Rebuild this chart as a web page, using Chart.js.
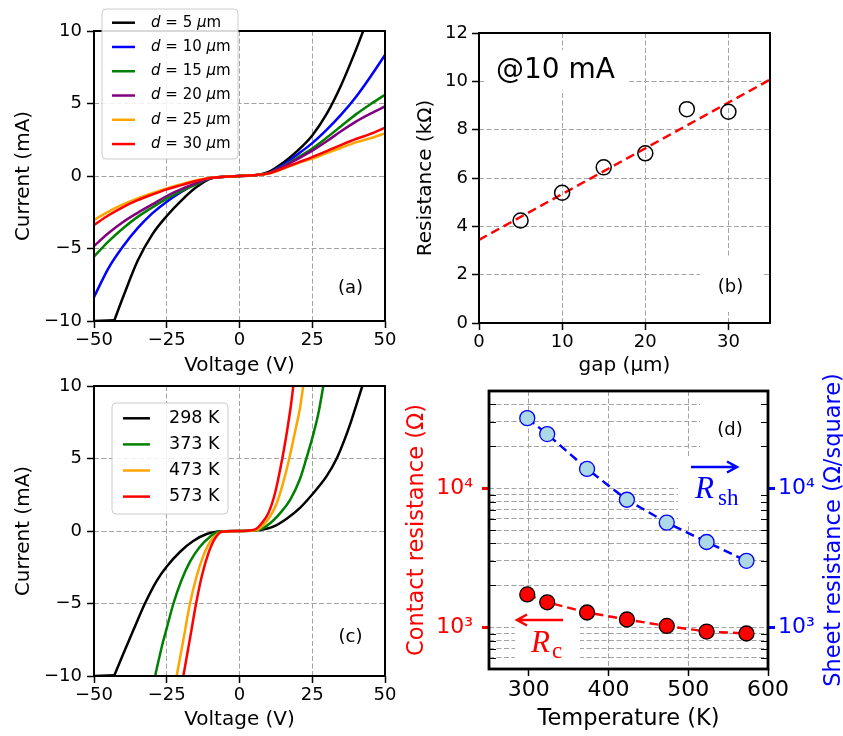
<!DOCTYPE html>
<html>
<head>
<meta charset="utf-8">
<script src="https://cdn.jsdelivr.net/npm/chart.js@4"></script>
<style>
body { margin: 0; background: #fff; }
#wrap { position: relative; width: 843px; height: 736px; }
canvas { position: absolute; left: 0; top: 0; }
</style>
</head>
<body>
<div id="wrap">
  <canvas id="ca" width="843" height="736"></canvas>
  <canvas id="cb" width="843" height="736"></canvas>
  <canvas id="cc" width="843" height="736"></canvas>
  <canvas id="cd" width="843" height="736"></canvas>
</div>
<script>
// ---- panel (a): I-V for different gaps ----
const aGaps = [5, 10, 15, 20, 25, 30];
const aColors = ['#000000', '#0000ff', '#008000', '#800080', '#ffa500', '#ff0000'];
const aVolt = [-50,-45,-40,-35,-30,-25,-20,-15,-10,-5,0,5,10,15,20,25,30,35,40,45,50];
// d = 5 um clips at -10 mA below -43 V, and leaves the top at 42.5 V
const a5V = [-50,-43,-40,-35,-30,-25,-20,-15,-10,-5,0,5,10,15,20,25,30,35,40,42.5];
const a5I = [-10,-9.95,-8.35,-5.85,-4.04,-2.76,-1.7,-0.8,-0.17,-0.05,0,0.04,0.28,0.92,1.75,2.8,4.3,6.3,8.7,10];
const a10I = [-8.35,-6.35,-4.85,-3.6,-2.58,-1.77,-1.1,-0.54,-0.15,-0.05,0,0.05,0.22,0.78,1.5,2.27,3.2,4.25,5.45,6.85,8.35];
const a15I = [-5.56,-4.51,-3.6,-2.82,-2.17,-1.56,-1.04,-0.59,-0.16,-0.05,0,0.05,0.2,0.68,1.27,1.9,2.65,3.45,4.25,4.95,5.6];
const a20I = [-4.83,-3.93,-3.17,-2.54,-1.96,-1.38,-0.91,-0.5,-0.15,-0.05,0,0.05,0.2,0.64,1.18,1.75,2.4,3.1,3.75,4.3,4.8];
const a25I = [-3.03,-2.45,-1.96,-1.54,-1.18,-0.85,-0.56,-0.31,-0.12,-0.05,0,0.05,0.17,0.5,0.88,1.2,1.58,1.95,2.32,2.6,2.95];
const a30I = [-3.38,-2.71,-2.14,-1.67,-1.28,-0.92,-0.63,-0.35,-0.13,-0.05,0,0.05,0.18,0.53,0.92,1.3,1.72,2.15,2.55,2.9,3.33];
const ivTicksX = [-50, -25, 0, 25, 50];
const ivTicksY = [-10, -5, 0, 5, 10];

// ---- panel (b): resistance vs gap ----
const bGap = [5, 10, 15, 20, 25, 30];
const bRes = [4.24, 5.39, 6.44, 7.02, 8.85, 8.74];
const bFitGap = [0, 35];
const bFitRes = [3.44, 10.07];
const bTicksX = [0, 10, 20, 30];
const bTicksY = [0, 2, 4, 6, 8, 10, 12];

// ---- panel (c): I-V for different temperatures ----
const cTemps = ['298 K', '373 K', '473 K', '573 K'];
const cColors = ['#000000', '#008000', '#ffa500', '#ff0000'];
const c298V = [-50,-43,-40,-36.5,-32.5,-28.5,-25,-20.4,-15.9,-11.3,-7.3,0,7,11.6,16.2,20.8,24.9,30,33.4,36,38,40,42.2];
const c298I = [-10,-9.95,-8.5,-6.85,-5,-3.45,-2.45,-1.43,-0.69,-0.21,-0.04,0,0.07,0.3,0.85,1.6,2.5,3.8,5,6.25,7.35,8.6,10];
const c373V = [-29,-26.7,-25,-22.7,-19.9,-17,-13.6,-10.1,-7.3,0,7,10.5,13.9,17.4,20.8,22.9,25.4,27.1,28.8];
const c373I = [-10,-7.98,-6.7,-5,-3.38,-2.11,-1.08,-0.39,-0.05,0,0.1,0.53,1.22,2.14,3.6,4.95,6.7,8.1,10];
const c473V = [-21.6,-19.3,-17,-14.7,-12.4,-10.1,-7.3,-5.6,0,5.9,8.2,10.5,12.8,15.1,17.1,19.1,20.8,21.9];
const c473I = [-10,-7.52,-4.99,-3.1,-1.7,-0.74,-0.16,-0.03,0,0.07,0.41,0.99,1.91,3.4,5,6.85,8.5,10];
const c573V = [-19.3,-17,-14.9,-13,-10.7,-8.4,-6.1,0,5.3,7.6,9.9,12.2,14.7,16.4,17.6,18.5];
const c573I = [-10,-7.4,-4.99,-3.15,-1.54,-0.51,-0.05,0,0.11,0.53,1.22,2.6,5,6.97,8.57,10];

// ---- panel (d): resistances vs temperature ----
const dTemp = [298, 323, 373, 423, 473, 523, 573];
const dRsh = [31900, 24500, 13750, 8250, 5650, 4100, 3000];
const dRc = [1720, 1510, 1275, 1135, 1020, 930, 900];
const dTicksX = [300, 400, 500, 600];
const dLogTicks = [600,700,800,900,1000,2000,3000,4000,5000,6000,7000,8000,9000,10000,20000,30000,40000];
const dMajor = [1000, 10000];
const dMajorLbl = ['10\u00b3', '10\u2074'];

const GRID = '#a3a3a3';
Chart.defaults.font.family = "'DejaVu Sans'";
Chart.defaults.color = '#000';

function minus(v) { return String(v).replace('-', '\u2212'); }
function pts(xs, ys) { return xs.map((x, i) => ({ x: x, y: ys[i] })); }

function axis(o) {
  return {
    type: o.type || 'linear', position: o.pos, min: o.min, max: o.max,
    afterBuildTicks: s => { s.ticks = o.ticks.map(v => ({ value: v })); },
    afterFit: s => {
      if (o.pos === 'bottom') s.height = o.size; else s.width = o.size;
      s.paddingLeft = s.paddingRight = s.paddingTop = s.paddingBottom = 0;
    },
    grid: {
      drawOnChartArea: o.gridOn !== false, color: GRID, lineWidth: 1, drawTicks: true,
      tickLength: 7, tickWidth: o.tickWidth || 1.5, tickColor: o.tickColor || '#000', tickBorderDash: []
    },
    border: { display: false, dash: [5, 2.5] },
    ticks: {
      autoSkip: false, maxRotation: 0, minRotation: 0, padding: o.pad, color: o.color || '#000',
      font: { size: o.fs || 18 }, callback: o.fmt || minus
    },
    title: {
      display: !!o.title, text: o.title || '', color: o.tcolor || '#000',
      font: { size: o.tfs || 20 }, padding: { top: o.tpad || 0, bottom: o.tpad || 0 }
    }
  };
}

function make(id, datasets, scales, pad, plugin) {
  return new Chart(document.getElementById(id), {
    type: 'line',
    data: { datasets: datasets },
    options: {
      responsive: false, animation: false, devicePixelRatio: 1, events: [],
      layout: { autoPadding: false, padding: pad },
      plugins: { legend: { display: false }, tooltip: { enabled: false } },
      scales: scales
    },
    plugins: [plugin]
  });
}

function frame(chart, lw) {
  const ctx = chart.ctx, a = chart.chartArea;
  ctx.save();
  ctx.strokeStyle = '#000'; ctx.lineWidth = lw;
  ctx.strokeRect(a.left, a.top, a.right - a.left, a.bottom - a.top);
  ctx.restore();
}
function boxes(chart, list) {
  const ctx = chart.ctx;
  ctx.save(); ctx.fillStyle = '#fff';
  list.forEach(b => ctx.fillRect(b[0], b[1], b[2], b[3]));
  ctx.restore();
}
function text(ctx, t, x, y, font, color, align, base) {
  ctx.save();
  ctx.font = font; ctx.fillStyle = color || '#000';
  ctx.textAlign = align || 'center'; ctx.textBaseline = base || 'middle';
  ctx.fillText(t, x, y);
  ctx.restore();
}
function legend(ctx, L) {
  ctx.save();
  const r = 4, x = L.x, y = L.y, w = L.w, h = L.h;
  ctx.beginPath();
  ctx.moveTo(x + r, y); ctx.arcTo(x + w, y, x + w, y + h, r); ctx.arcTo(x + w, y + h, x, y + h, r);
  ctx.arcTo(x, y + h, x, y, r); ctx.arcTo(x, y, x + w, y, r); ctx.closePath();
  ctx.fillStyle = 'rgba(255,255,255,0.85)'; ctx.fill();
  ctx.strokeStyle = '#cccccc'; ctx.lineWidth = 1; ctx.stroke();
  L.rows.forEach((row, i) => {
    const yy = L.y0 + i * L.dy;
    ctx.strokeStyle = row.color; ctx.lineWidth = 2.5;
    ctx.beginPath(); ctx.moveTo(L.lx0, yy); ctx.lineTo(L.lx1, yy); ctx.stroke();
    let xx = L.tx;
    ctx.fillStyle = '#000'; ctx.textBaseline = 'middle'; ctx.textAlign = 'left';
    row.parts.forEach(p => {
      ctx.font = (p[1] ? 'italic ' : '') + L.fs + "px 'DejaVu Sans'";
      ctx.fillText(p[0], xx, yy);
      xx += ctx.measureText(p[0]).width;
    });
  });
  ctx.restore();
}
function arrow(ctx, x0, x1, y, color) {
  const d = Math.sign(x1 - x0);
  ctx.save();
  ctx.strokeStyle = color; ctx.lineWidth = 2.5;
  ctx.beginPath();
  ctx.moveTo(x0, y); ctx.lineTo(x1, y);
  ctx.moveTo(x1 - d * 10, y - 5.5); ctx.lineTo(x1, y); ctx.lineTo(x1 - d * 10, y + 5.5);
  ctx.stroke();
  ctx.restore();
}

function lineSet(data, color, order) {
  return { data: data, borderColor: color, borderWidth: 2.5, pointRadius: 0, fill: false,
    cubicInterpolationMode: 'monotone', order: order };
}
// curves that sit on the -10 mA limit first: straight clipped piece + smooth rest
function clippedSets(V, I, color, order) {
  const p = pts(V, I);
  const flat = lineSet(p.slice(0, 2), color, order);
  flat.cubicInterpolationMode = 'default'; flat.tension = 0;
  return [flat, lineSet(p.slice(1), color, order)];
}

// ---------- (a) ----------
const aI = [a5I, a10I, a15I, a20I, a25I, a30I];
let aSets = [];
aGaps.forEach((g, i) => {
  if (i === 0) aSets = aSets.concat(clippedSets(a5V, a5I, aColors[0], aGaps.length));
  else aSets.push(lineSet(pts(aVolt, aI[i]), aColors[i], aGaps.length - i));
});
make('ca', aSets, {
  x: axis({ pos: 'bottom', min: -50, max: 50, ticks: ivTicksX, size: 60, pad: 2, title: 'Voltage (V)', tpad: 3 }),
  y: axis({ pos: 'left', min: -10, max: 10, ticks: ivTicksY, size: 94, pad: 5, title: 'Current (mA)', tpad: 12 })
}, { left: 0, top: 31, right: 458, bottom: 355 }, {
  id: 'decoA',
  afterDatasetsDraw(chart) {
    frame(chart, 2);
    legend(chart.ctx, {
      x: 102, y: 9, w: 136, h: 150, y0: 22.7, dy: 24.27, lx0: 112, lx1: 135, tx: 151, fs: 15,
      rows: aGaps.map((g, i) => ({ color: aColors[i], parts: [['d', true], [' = ' + g + ' ', false], ['\u03bc', true], ['m', false]] }))
    });
    text(chart.ctx, '(a)', 350.5, 288, "18px 'DejaVu Sans'");
  }
});

// ---------- (b) ----------
make('cb', [
  { data: pts(bFitGap, bFitRes), borderColor: '#ff0000', borderWidth: 2.5, borderDash: [9, 5], pointRadius: 0, order: 2 },
  { data: pts(bGap, bRes), showLine: false, pointRadius: 7.5, pointBorderColor: '#000', pointBorderWidth: 1.5,
    pointBackgroundColor: 'rgba(0,0,0,0)', order: 1 }
], {
  x: axis({ pos: 'bottom', min: 0, max: 35, ticks: bTicksX, size: 60, pad: 2, title: 'gap (\u03bcm)', tpad: 5 }),
  y: axis({ pos: 'left', min: 0, max: 12, ticks: bTicksY, size: 70, pad: 4, title: 'Resistance (k\u03a9)', tpad: 5 })
}, { left: 409, top: 33, right: 73, bottom: 353 }, {
  id: 'decoB',
  beforeDatasetsDraw(chart) { boxes(chart, [[485, 50, 142, 40], [700, 258, 62, 54]]); },
  afterDatasetsDraw(chart) {
    frame(chart, 2);
    text(chart.ctx, '@10 mA', 496, 78, "28px 'DejaVu Sans'", '#000', 'left', 'alphabetic');
    text(chart.ctx, '(b)', 730.5, 287.5, "18px 'DejaVu Sans'");
  }
});

// ---------- (c) ----------
const cV = [c298V, c373V, c473V, c573V];
const cI = [c298I, c373I, c473I, c573I];
let cSets = [];
cTemps.forEach((t, i) => {
  if (i === 0) cSets = cSets.concat(clippedSets(cV[0], cI[0], cColors[0], cTemps.length));
  else cSets.push(lineSet(pts(cV[i], cI[i]), cColors[i], cTemps.length - i));
});
make('cc', cSets, {
  x: axis({ pos: 'bottom', min: -50, max: 50, ticks: ivTicksX, size: 60, pad: 2, title: 'Voltage (V)', tpad: 4 }),
  y: axis({ pos: 'left', min: -10, max: 10, ticks: ivTicksY, size: 94, pad: 5, title: 'Current (mA)', tpad: 12 })
}, { left: 0, top: 386, right: 458, bottom: 0 }, {
  id: 'decoC',
  afterDatasetsDraw(chart) {
    frame(chart, 2);
    legend(chart.ctx, {
      x: 112, y: 403, w: 116, h: 111, y0: 418.3, dy: 26.1, lx0: 123, lx1: 150, tx: 169, fs: 17.5,
      rows: cTemps.map((t, i) => ({ color: cColors[i], parts: [[t, false]] }))
    });
    text(chart.ctx, '(c)', 350.5, 637.5, "18px 'DejaVu Sans'");
  }
});

// ---------- (d) ----------
const logFmt = v => { const k = dMajor.indexOf(v); return k >= 0 ? dMajorLbl[k] : ''; };
const isMajor = c => c.tick && dMajor.indexOf(c.tick.value) >= 0;
make('cd', [
  { data: pts(dTemp, dRsh), yAxisID: 'y2', borderColor: '#0000ff', borderWidth: 2.5, borderDash: [9, 5],
    pointRadius: 7.5, pointBackgroundColor: '#add8e6', pointBorderColor: '#0000ff', pointBorderWidth: 1.3 },
  { data: pts(dTemp, dRc), yAxisID: 'y', borderColor: '#ff0000', borderWidth: 2.5, borderDash: [9, 5],
    pointRadius: 7.5, pointBackgroundColor: '#ff0000', pointBorderColor: '#000', pointBorderWidth: 1.3 }
], {
  x: axis({ pos: 'bottom', min: 250, max: 600, ticks: dTicksX, size: 67, pad: 1, fs: 22,
    title: 'Temperature (K)', tfs: 22.5, tpad: 3.5 }),
  y: axis({ type: 'logarithmic', pos: 'left', min: 500, max: 50000, ticks: dLogTicks, size: 90, pad: 9,
    fs: 22, color: '#ff0000', fmt: logFmt, title: 'Contact resistance (\u03a9)', tfs: 22.5, tcolor: '#ff0000', tpad: 4.5 }),
  y2: axis({ type: 'logarithmic', pos: 'right', min: 500, max: 50000, ticks: dLogTicks, size: 75, pad: 3,
    fs: 22, color: '#0000ff', fmt: logFmt, gridOn: false })
}, { left: 399, top: 391, right: 0, bottom: 0 }, {
  id: 'decoD',
  beforeInit(chart) {
    chart.options.scales.y.grid.tickColor = c => isMajor(c) ? '#ff0000' : 'rgba(0,0,0,0)';
    chart.options.scales.y.grid.tickWidth = c => isMajor(c) ? 3 : 1;
    chart.options.scales.y2.grid.tickColor = c => isMajor(c) ? '#0000ff' : 'rgba(0,0,0,0)';
    chart.options.scales.y2.grid.tickWidth = c => isMajor(c) ? 3 : 1;
  },
  beforeDatasetsDraw(chart) { boxes(chart, [[700, 395, 67, 62], [678, 458, 89, 64], [515, 597, 65, 71]]); },
  afterDatasetsDraw(chart) {
    const ctx = chart.ctx, a = chart.chartArea, sy = chart.scales.y;
    ctx.save(); ctx.strokeStyle = '#000'; ctx.lineWidth = 1;
    dLogTicks.forEach(v => {
      if (dMajor.indexOf(v) >= 0) return;
      const y = Math.round(sy.getPixelForValue(v)) + 0.5;
      ctx.beginPath();
      ctx.moveTo(a.left, y); ctx.lineTo(a.left + 7, y);
      ctx.moveTo(a.right - 7, y); ctx.lineTo(a.right, y);
      ctx.stroke();
    });
    ctx.restore();
    frame(chart, 2.8);
    text(ctx, '(d)', 730, 430, "18px 'DejaVu Sans'");
    arrow(ctx, 691, 737, 467, '#0000ff');
    text(ctx, 'R', 695, 498, "italic 31px 'Liberation Serif'", '#0000ff', 'left', 'alphabetic');
    text(ctx, 'sh', 718, 505, "23px 'Liberation Serif'", '#0000ff', 'left', 'alphabetic');
    arrow(ctx, 563, 517, 620, '#ff0000');
    text(ctx, 'R', 531, 652, "italic 31px 'Liberation Serif'", '#ff0000', 'left', 'alphabetic');
    text(ctx, 'c', 552, 658, "23px 'Liberation Serif'", '#ff0000', 'left', 'alphabetic');
    ctx.save();
    ctx.translate(834, 530); ctx.rotate(-Math.PI / 2);
    text(ctx, 'Sheet resistance (\u03a9/square)', 0, 0, "22.5px 'DejaVu Sans'", '#0000ff');
    ctx.restore();
  }
});
</script>
</body>
</html>
